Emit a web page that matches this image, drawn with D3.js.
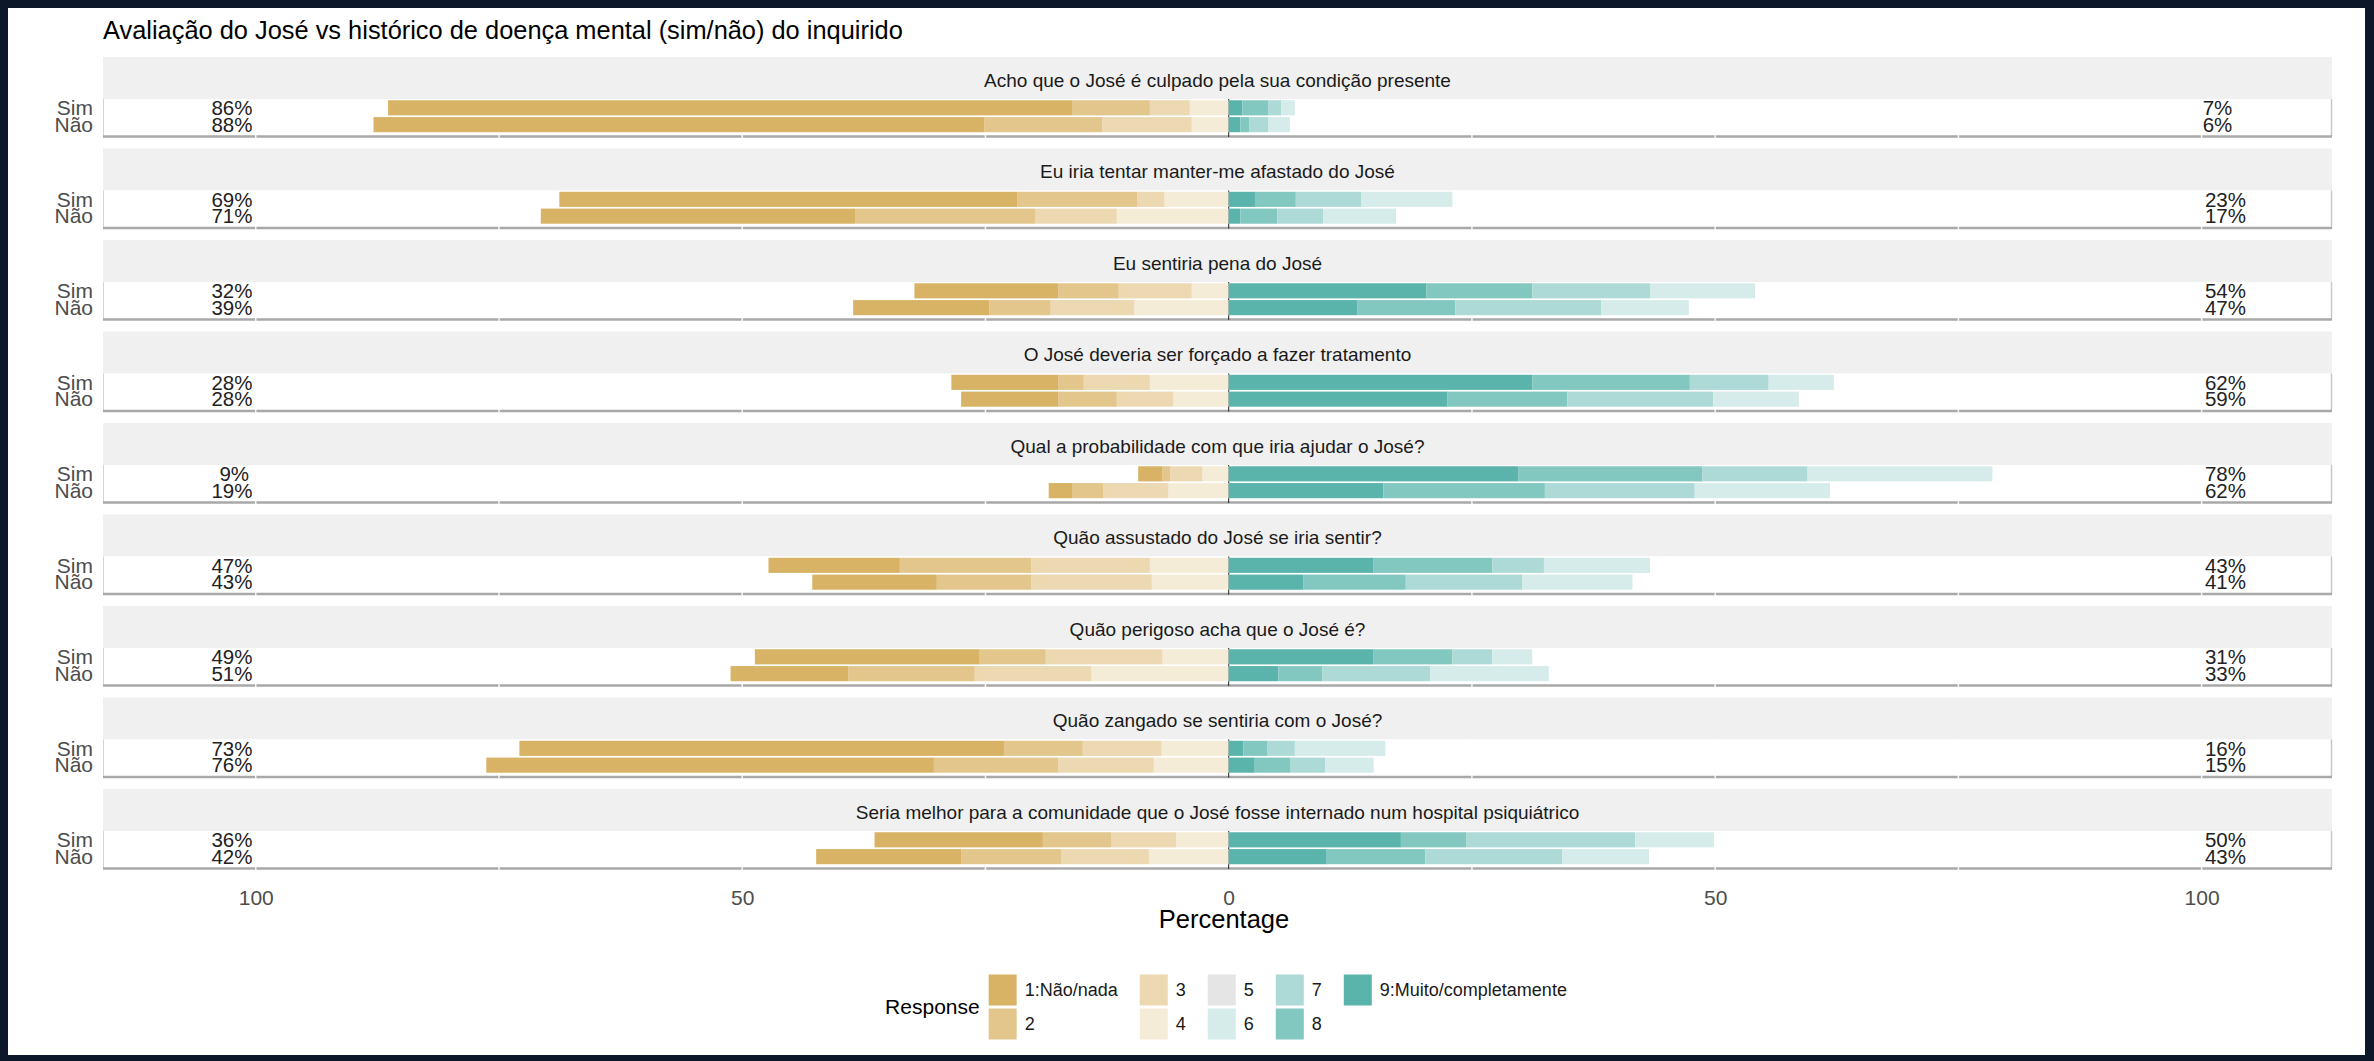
<!DOCTYPE html>
<html><head><meta charset="utf-8">
<script src="https://cdn.jsdelivr.net/npm/d3@7"></script>
<style>
html,body{margin:0;padding:0;background:#0c1829;overflow:hidden;}
svg{display:block;}
text{font-family:"Liberation Sans", Arial, Helvetica, sans-serif;}
</style></head><body>
<svg id="chart" width="2374" height="1061"></svg>
<script>
// ---------------- DATA ----------------
const chartTitle = "Avaliação do José vs histórico de doença mental (sim/não) do inquirido";
const questions = [
  "Acho que o José é culpado pela sua condição presente",
  "Eu iria tentar manter-me afastado do José",
  "Eu sentiria pena do José",
  "O José deveria ser forçado a fazer tratamento",
  "Qual a probabilidade com que iria ajudar o José?",
  "Quão assustado do José se iria sentir?",
  "Quão perigoso acha que o José é?",
  "Quão zangado se sentiria com o José?",
  "Seria melhor para a comunidade que o José fosse internado num hospital psiquiátrico"
];
const groups = ["Sim", "Não"];
const levelLabels = ["1:Não/nada","2","3","4","5","6","7","8","9:Muito/completamente"];
const levelColors = ["#D8B365","#E2C68C","#ECD9B2","#F5ECD8","#E5E5E5","#D6ECEA","#ADDAD6","#83C7C1","#5AB4AC"];

// Low side: levels [1, 2, 3, 4] (%)
const simLow = [
  [70.3, 8.0, 4.1, 4.0],
  [47.1, 12.3, 2.8, 6.6],
  [14.8, 6.2, 7.5, 3.8],
  [11.0, 2.6, 6.8, 8.1],
  [2.5, 0.8, 3.3, 2.7],
  [13.5, 13.5, 12.2, 8.1],
  [23.1, 6.8, 12.0, 6.8],
  [49.8, 8.1, 8.1, 6.9],
  [17.3, 7.0, 6.7, 5.4]
];
const naoLow = [
  [62.8, 12.1, 9.2, 3.8],
  [32.3, 18.5, 8.4, 11.5],
  [14.0, 6.3, 8.6, 9.7],
  [10.0, 6.0, 5.8, 5.7],
  [2.4, 3.2, 6.7, 6.2],
  [12.8, 9.7, 12.4, 7.9],
  [12.1, 13.0, 12.0, 14.1],
  [46.0, 12.8, 9.8, 7.7],
  [14.9, 10.3, 9.0, 8.2]
];
// High side: levels [6, 7, 8, 9] (%)
const simHigh = [
  [1.4, 1.3, 2.7, 1.4],
  [9.4, 6.7, 4.2, 2.7],
  [10.8, 12.1, 10.9, 20.3],
  [6.7, 8.1, 16.2, 31.2],
  [19.0, 10.8, 18.9, 29.8],
  [10.9, 5.3, 12.2, 14.9],
  [4.1, 4.1, 8.1, 14.9],
  [9.3, 2.8, 2.5, 1.5],
  [8.1, 17.4, 6.7, 17.7]
];
const naoHigh = [
  [2.2, 2.0, 0.9, 1.2],
  [7.5, 4.7, 3.8, 1.2],
  [9.0, 15.0, 10.1, 13.2],
  [8.8, 15.0, 12.3, 22.5],
  [13.9, 15.4, 16.6, 15.9],
  [11.3, 12.0, 10.5, 7.7],
  [12.2, 11.1, 4.5, 5.1],
  [5.0, 3.6, 3.7, 2.6],
  [8.9, 14.1, 10.2, 10.0]
];
const simLowPct  = [86, 69, 32, 28, 9, 47, 49, 73, 36];
const naoLowPct  = [88, 71, 39, 28, 19, 43, 51, 76, 42];
const simHighPct = [7, 23, 54, 62, 78, 43, 31, 16, 50];
const naoHighPct = [6, 17, 47, 59, 62, 41, 33, 15, 43];
const xTicks = [-100, -50, 0, 50, 100];
const xGrid = [-100, -75, -50, -25, 25, 50, 75, 100];
const axisTitle = "Percentage";
const legendTitle = "Response";

// ---------------- LAYOUT ----------------
const svg = d3.select("#chart");
svg.append("rect").attr("x", 8).attr("y", 8).attr("width", 2357).attr("height", 1047).attr("fill", "#ffffff");

const panelLeft = 103, panelRight = 2332;
const x = d3.scaleLinear().domain([-115.7, 113.4]).range([panelLeft, panelRight]);
const period = 91.5, stripH = 42, panelH = 37, firstPanelTop = 99;

svg.append("text").attr("x", panelLeft).attr("y", 39)
  .attr("font-size", 25.4).attr("fill", "#000").text(chartTitle);

const lowData = {"Sim": simLow, "Não": naoLow};
const highData = {"Sim": simHigh, "Não": naoHigh};
const lowPct = {"Sim": simLowPct, "Não": naoLowPct};
const highPct = {"Sim": simHighPct, "Não": naoHighPct};

questions.forEach((q, i) => {
  const top = firstPanelTop + i * period;
  const g = svg.append("g");
  // strip
  g.append("rect").attr("x", panelLeft).attr("y", top - stripH).attr("width", panelRight - panelLeft)
    .attr("height", stripH).attr("fill", "#F0F0F0");
  g.append("text").attr("x", (panelLeft + panelRight) / 2).attr("y", top - stripH / 2 + 2)
    .attr("dy", "0.35em").attr("text-anchor", "middle").attr("font-size", 19).attr("fill", "#1A1A1A").text(q);
  // panel
  g.append("rect").attr("x", panelLeft).attr("y", top).attr("width", panelRight - panelLeft)
    .attr("height", panelH + 1).attr("fill", "#ffffff");
  g.append("line").attr("x1", panelLeft + 0.5).attr("x2", panelLeft + 0.5).attr("y1", top).attr("y2", top + panelH)
    .attr("stroke", "#D4D4D4").attr("stroke-width", 1);
  g.append("line").attr("x1", panelRight - 0.5).attr("x2", panelRight - 0.5).attr("y1", top).attr("y2", top + panelH)
    .attr("stroke", "#C8C8C8").attr("stroke-width", 1.5);
  g.append("line").attr("x1", panelLeft).attr("x2", panelRight).attr("y1", top + panelH + 0.5).attr("y2", top + panelH + 0.5)
    .attr("stroke", "#A8A8A8").attr("stroke-width", 2.5);
  g.selectAll("line.grid").data(xGrid).join("line").attr("class", "grid")
    .attr("x1", d => x(d)).attr("x2", d => x(d)).attr("y1", top).attr("y2", top + panelH + 2)
    .attr("stroke", "#ffffff").attr("stroke-width", 1.5).attr("opacity", 0.9);
  g.append("line").attr("x1", x(0)).attr("x2", x(0)).attr("y1", top).attr("y2", top + panelH + 1)
    .attr("stroke", "#222").attr("stroke-width", 1);

  const y = d3.scaleBand().domain(groups).range([top, top + panelH])
    .paddingInner(0.1).paddingOuter(0.15).align(0.25);

  groups.forEach(grp => {
    const low = lowData[grp][i];   // [1,2,3,4]
    const high = highData[grp][i]; // [6,7,8,9]
    const segs = [];
    let cum = 0;
    for (let k = 3; k >= 0; k--) { // 4,3,2,1 from the centre outward
      segs.push({level: k, x0: -cum - low[k], x1: -cum});
      cum += low[k];
    }
    cum = 0;
    for (let k = 3; k >= 0; k--) { // 9,8,7,6 from the centre outward
      segs.push({level: k + 5, x0: cum, x1: cum + high[k]});
      cum += high[k];
    }
    g.selectAll(null).data(segs).join("rect")
      .attr("x", d => x(d.x0)).attr("width", d => x(d.x1) - x(d.x0))
      .attr("y", y(grp)).attr("height", y.bandwidth())
      .attr("fill", d => levelColors[d.level]);

    const cy = y(grp) + y.bandwidth() / 2;
    g.append("text").attr("x", 93).attr("y", cy).attr("dy", "0.35em").attr("text-anchor", "end")
      .attr("font-size", 21).attr("fill", "#4D4D4D").text(grp);
    const lt = g.append("text").attr("y", cy).attr("dy", "0.35em").attr("font-size", 20.5)
      .attr("fill", "#222").text(lowPct[grp][i] + "%");
    const lw = lt.node().getComputedTextLength();
    lt.attr("x", x(-101.6) - 0.7 * lw);
    const rt = g.append("text").attr("y", cy).attr("dy", "0.35em").attr("font-size", 20.5)
      .attr("fill", "#222").text(highPct[grp][i] + "%");
    const rw = rt.node().getComputedTextLength();
    rt.attr("x", x(99.5) + 0.2 * rw);
  });
});

// x axis
const lastBottom = firstPanelTop + (questions.length - 1) * period + panelH;
const axisG = svg.append("g").attr("transform", `translate(0,${lastBottom + 2})`);
const axis = d3.axisBottom(x).tickValues(xTicks).tickFormat(d => Math.abs(d)).tickSize(0).tickPadding(20);
axisG.call(axis);
axisG.select(".domain").remove();
axisG.selectAll("text").attr("font-size", 21).attr("fill", "#4D4D4D")
  .attr("font-family", "Liberation Sans, Arial, sans-serif");

svg.append("text").attr("x", 1224).attr("y", 928).attr("text-anchor", "middle")
  .attr("font-size", 25.5).attr("fill", "#000").text(axisTitle);

// legend
const lg = svg.append("g");
const keyW = 28, keyH = 31, keyGap = 3, labGap = 8, colGap = 22, legendMidY = 1007;
const ltl = lg.append("text").attr("x", 0).attr("y", legendMidY).attr("dy", "0.35em")
  .attr("font-size", 21).attr("fill", "#000").text(legendTitle);
let cx = ltl.node().getComputedTextLength() + 9;
const columns = [[0, 1], [2, 3], [4, 5], [6, 7], [8]];
columns.forEach(col => {
  let maxW = 0;
  col.forEach((lev, r) => {
    const ky = legendMidY - keyH - keyGap / 2 + r * (keyH + keyGap);
    lg.append("rect").attr("x", cx).attr("y", ky).attr("width", keyW).attr("height", keyH)
      .attr("fill", levelColors[lev]);
    const t = lg.append("text").attr("x", cx + keyW + labGap).attr("y", ky + keyH / 2).attr("dy", "0.35em")
      .attr("font-size", 18).attr("fill", "#1A1A1A").text(levelLabels[lev]);
    maxW = Math.max(maxW, t.node().getComputedTextLength());
  });
  cx += keyW + labGap + maxW + colGap;
});
const legendW = cx - colGap;
lg.attr("transform", `translate(${1226 - legendW / 2},0)`);
</script>
</body></html>
